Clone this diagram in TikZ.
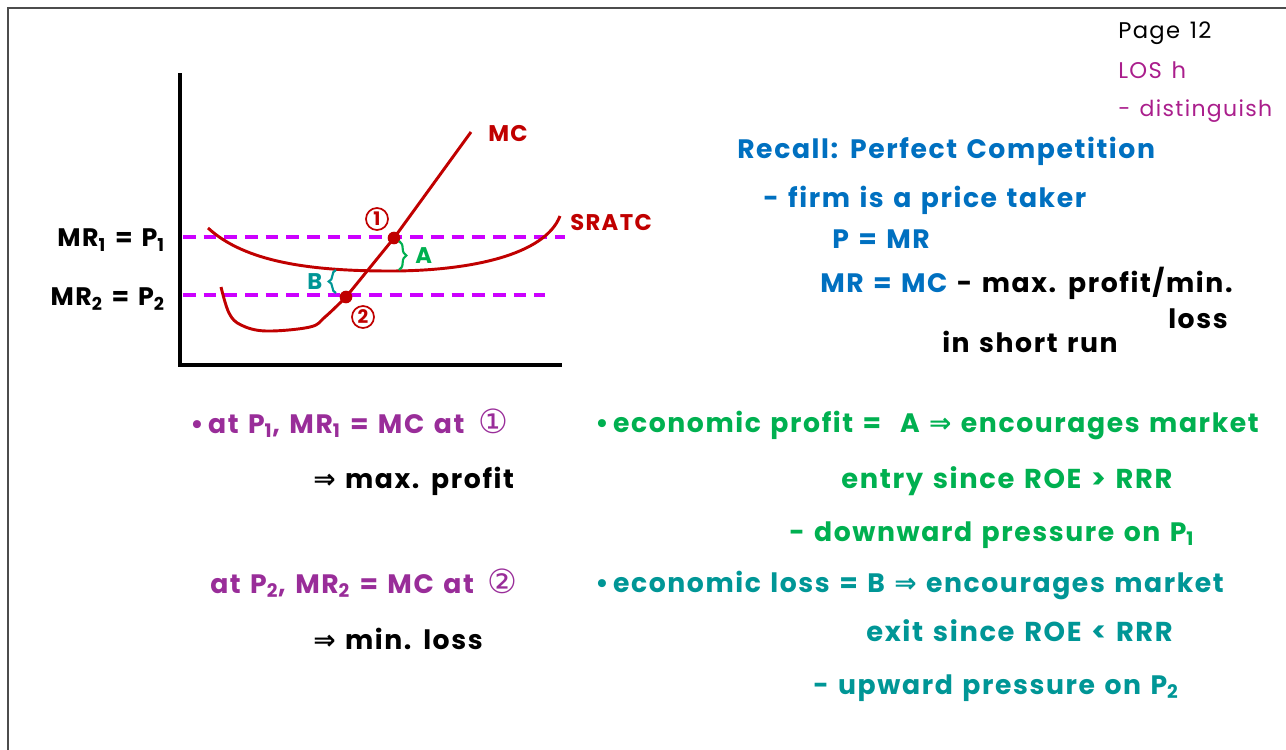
\documentclass[tikz,border=0pt]{standalone}
\usepackage{fontspec}
\setmainfont{Poppins}[LetterSpace=6, WordSpace=1.3]
\newfontfamily\sym{DejaVu Sans}
\usetikzlibrary{decorations.pathreplacing}
\definecolor{cred}{RGB}{192,0,0}
\definecolor{cmag}{RGB}{204,0,255}
\definecolor{cpur}{RGB}{153,45,153}
\definecolor{clos}{RGB}{170,30,140}
\definecolor{cgrn}{RGB}{0,176,80}
\definecolor{cteal}{RGB}{0,150,150}
\definecolor{cblue}{RGB}{0,112,192}
\begin{document}
\begin{tikzpicture}[x=0.75pt,y=-0.75pt,
  txt/.style={anchor=base west, inner sep=0pt, font=\fontsize{20}{24}\selectfont\bfseries},
  txtr/.style={anchor=base east, inner sep=0pt, font=\fontsize{19}{24}\selectfont\bfseries},
  small/.style={anchor=base west, inner sep=0pt, font=\fontsize{17}{20}\selectfont},
  lab/.style={anchor=base west, inner sep=0pt, font=\fontsize{17}{20}\selectfont\bfseries},
  curve/.style={cred, line width=2.2pt, line join=round},
  mrline/.style={cmag, line width=2.7pt, dash pattern=on 9.5pt off 6pt},
  axis/.style={black, line width=2.3pt},
  dot/.style={circle, fill=cred, inner sep=0pt, minimum size=9.5pt},
  circnum/.style={circle, draw=cred, line width=1.3pt, text=cred, inner sep=0pt, minimum size=16.5pt, font=\fontsize{14}{14}\selectfont\bfseries},
  brc/.style={decorate, decoration={brace, amplitude=5.5pt}, line width=1.6pt},
  circ/.style={font=\sym\mdseries\fontsize{25}{24}\selectfont}]
\useasboundingbox (0,0) rectangle (1286,750);
% frame
\draw[line width=1.5pt, black!70] (8,750) -- (8,8) -- (1286,8);
% axes
\coordinate (ytop) at (180,73);
\coordinate (orig) at (180,365);
\coordinate (xend) at (562,365);
\draw[axis] (ytop) -- (orig) -- (xend);
% price lines
\coordinate (p1a) at (183,237);
\coordinate (p1b) at (565,237);
\coordinate (p2a) at (183,295);
\coordinate (p2b) at (545,295);
\draw[mrline] (p1a) -- (p1b);
\draw[mrline] (p2a) -- (p2b);
\node[txtr] (lp1) at (165,246) {MR\textsubscript{1} = P\textsubscript{1}};
\node[txtr] (lp2) at (165,305) {MR\textsubscript{2} = P\textsubscript{2}};
% SRATC
\draw[curve] (208,228) .. controls (245,262) and (310,271) .. (390,271) .. controls (470,271) and (545,255) .. (560,216);
% MC
\coordinate (e1) at (394,238);
\coordinate (e2) at (346,297);
\coordinate (mctop) at (471,132);
\draw[curve] plot[smooth, tension=0.6] coordinates {(221,287) (229,313) (241,325) (266,331) (310,327) (325,317) (346,297)} -- (e1) -- (mctop);
\node[dot] (d1) at (e1) {};
\node[dot] (d2) at (e2) {};
\node[circnum] (c1) at (377,219) {1};
\node[circnum] (c2) at (363,317) {2};
\node[lab, text=cred] (mc) at (488,141) {MC};
\node[lab, text=cred] (sratc) at (570,230) {SRATC};
% braces
\coordinate (ba1) at (399,241);
\coordinate (ba2) at (399,270);
\draw[brc, cgrn] (ba1) -- (ba2);
\node[lab, text=cgrn] (A) at (415,263) {A};
\coordinate (bb1) at (336,293);
\coordinate (bb2) at (336,270);
\draw[brc, cteal] (bb1) -- (bb2);
\node[lab, text=cteal] (B) at (307,289) {B};
% top right
\node[small] (page) at (1118,38) {Page 12};
\node[small, text=clos] (los) at (1118,78) {LOS h};
\node[small, text=clos, font=\fontsize{16.5}{20}\selectfont] (dist) at (1118,116) {- distinguish};
% recall block
\node[txt, text=cblue] (recall) at (737,158) {Recall: Perfect Competition};
\node[txt, text=cblue] (firm) at (763,207) {- firm is a price taker};
\node[txt, text=cblue] (pmr) at (832,248) {P = MR};
\node[txt] (mrmc) at (820,292) {\textcolor{cblue}{MR = MC} - max. profit/min.};
\node[txt] (loss) at (1168,328) {loss};
\node[txt] (srun) at (942,352) {in short run};
% left bottom
\node[txt, text=cpur] (at1) at (190,433) {\textbullet\,at P\textsubscript{1}, MR\textsubscript{1} = MC at\, {\sym\mdseries\fontsize{25}{24}\selectfont ①}};
\node[txt] (maxp) at (313,488) {{\sym ⇒} max. profit};
\node[txt, text=cpur] (at2) at (210,593) {at P\textsubscript{2}, MR\textsubscript{2} = MC at\, {\sym\mdseries\fontsize{25}{24}\selectfont ②}};
\node[txt] (minl) at (313,649) {{\sym ⇒} min. loss};
% right bottom
\node[txt, text=cgrn] (ep) at (595,432) {\textbullet\,economic profit = \ A {\sym ⇒} encourages market};
\node[txt, text=cgrn, font=\fontsize{20.5}{24}\selectfont\bfseries] (entry) at (841,488) {entry since ROE > RRR};
\node[txt, text=cgrn] (down) at (789,541) {- downward pressure on P\textsubscript{1}};
\node[txt, text=cteal] (el) at (595,592) {\textbullet\,economic loss = B {\sym ⇒} encourages market};
\node[txt, text=cteal, font=\fontsize{20.5}{24}\selectfont\bfseries] (exit) at (866,641) {exit since ROE < RRR};
\node[txt, text=cteal] (up) at (813,694) {- upward pressure on P\textsubscript{2}};
\end{tikzpicture}
\end{document}
